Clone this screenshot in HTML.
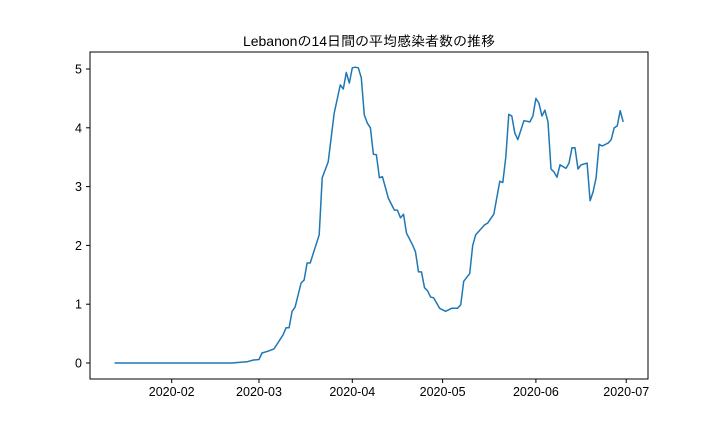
<!DOCTYPE html>
<html><head><meta charset="utf-8"><style>
body{margin:0;background:#fff;}
svg{display:block;font-family:"Liberation Sans","IPAGothic","Noto Sans CJK JP",sans-serif;}
</style></head><body>
<svg id="chart" width="720" height="432">
<rect width="720" height="432" fill="#fff"/>
<text x="369" y="46" font-size="14" text-anchor="middle" fill="#000">Lebanonの14日間の平均感染者数の推移</text>
<g id="axes"></g>
<path id="line" fill="none" stroke="#1f77b4" stroke-width="1.5" stroke-linejoin="round"/>
<rect x="90" y="52" width="558" height="327" fill="none" stroke="#000" stroke-width="1"/>
</svg>
<script>
// days since 2020-01-01
const days = [12,51,56,58,60,61,63,65,68,69,70,71,72,74,75,76,77,80,81,83,85,87,88,89,90,91,92,93,94,95,96,97,98,99,100,101,103,105,106,107,108,109,111,112,113,114,115,116,117,118,120,122,124,126,127,128,130,131,132,135,136,138,140,141,142,143,144,145,146,148,150,151,152,153,154,155,156,157,158,159,160,162,163,164,165,166,167,169,170,171,172,173,174,176,177,178,179,180,181];
const values = [0,0,0.02,0.05,0.06,0.17,0.2,0.24,0.48,0.6,0.6,0.88,0.95,1.36,1.41,1.7,1.7,2.18,3.15,3.42,4.25,4.73,4.66,4.94,4.76,5.02,5.03,5.02,4.85,4.22,4.08,4.0,3.55,3.54,3.15,3.17,2.8,2.6,2.6,2.47,2.53,2.21,2.01,1.89,1.55,1.55,1.28,1.23,1.12,1.11,0.93,0.88,0.93,0.93,0.99,1.39,1.52,2.0,2.18,2.35,2.38,2.53,3.09,3.07,3.5,4.23,4.2,3.91,3.8,4.12,4.1,4.2,4.5,4.42,4.2,4.3,4.1,3.3,3.25,3.16,3.37,3.31,3.4,3.66,3.66,3.3,3.37,3.4,2.76,2.91,3.15,3.72,3.69,3.74,3.8,4.0,4.03,4.29,4.1];
const xTickDays = [31,60,91,121,152,182];
const xTickLabels = ["2020-02","2020-03","2020-04","2020-05","2020-06","2020-07"];
const yTicks = [0,1,2,3,4,5];

const X = d => 171.7 + (d - 31) * 3.01;
const Y = v => 363 - v * 58.8;
const ns = "http://www.w3.org/2000/svg";
const axes = document.getElementById('axes');
function mk(tag, attrs){const e=document.createElementNS(ns,tag);for(const k in attrs)e.setAttribute(k,attrs[k]);axes.appendChild(e);return e;}
xTickDays.forEach((d,i)=>{
  const x=X(d);
  const t=mk('line',{x1:x,x2:x,y1:379,y2:383,stroke:'#000'});
  
  
  const l=mk('text',{x:x,y:396,'font-size':12.5,'text-anchor':'middle'});
  l.textContent=xTickLabels[i];
  
  
});
yTicks.forEach(v=>{
  const y=Y(v);
  const t=mk('line',{x1:86,x2:90,y1:y,y2:y,stroke:'#000'});
  
  
  const l=mk('text',{x:82,y:y+4.5,'font-size':12.5,'text-anchor':'end'});
  l.textContent=v;
  
  
});
document.getElementById('line').setAttribute('d', days.map((d,i)=>(i?'L':'M')+X(d).toFixed(1)+','+Y(values[i]).toFixed(1)).join(''));
</script>
</body></html>
